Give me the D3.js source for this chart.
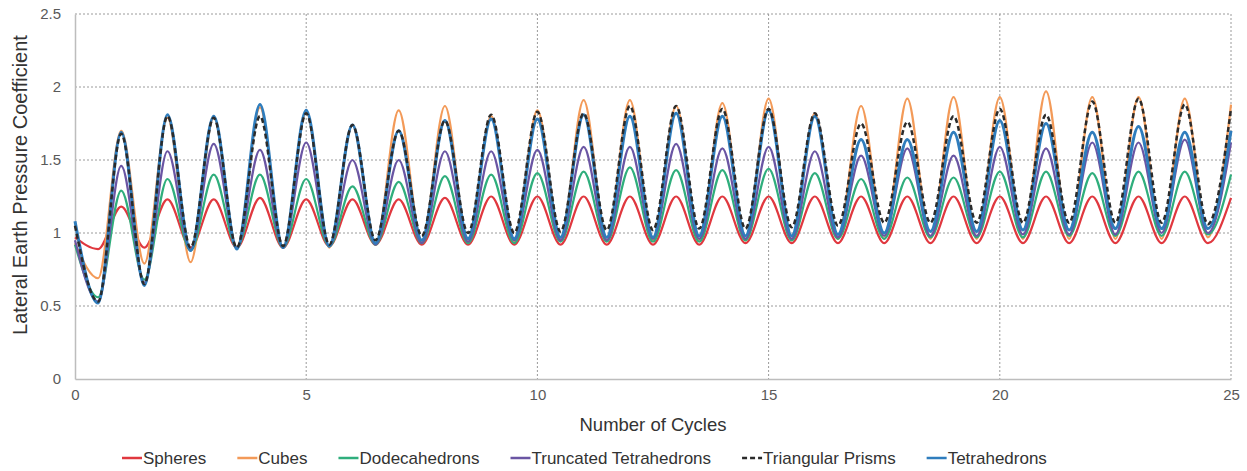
<!DOCTYPE html>
<html>
<head>
<meta charset="utf-8">
<script src="https://cdnjs.cloudflare.com/ajax/libs/d3/7.8.5/d3.min.js"></script>
<style>
    body { margin: 0; background: #fff; }
    svg { font-family: "Liberation Sans", Arial, sans-serif; }
    .tick text { fill: #595959; font-size: 15px; }
    .grid line { stroke: #9a9a9a; stroke-dasharray: 2,2; }
</style>
</head>
<body>
<svg id="chart" width="1247" height="471"></svg>
<script>
// cycle positions: peaks at whole cycles, troughs at half cycles
const cycles = d3.range(0, 25.5, 0.5);

const spheres = [
    0.97, 0.89, 1.18, 0.90, 1.23, 0.90, 1.23, 0.90, 1.24, 0.90,
    1.23, 0.91, 1.23, 0.92, 1.23, 0.92, 1.24, 0.92, 1.25, 0.92,
    1.25, 0.92, 1.25, 0.92, 1.25, 0.92, 1.25, 0.92, 1.25, 0.93,
    1.25, 0.93, 1.25, 0.93, 1.25, 0.93, 1.25, 0.93, 1.25, 0.93,
    1.25, 0.93, 1.25, 0.93, 1.25, 0.93, 1.25, 0.93, 1.25, 0.93,
    1.24
];
const cubes = [
    0.93, 0.69, 1.70, 0.79, 1.79, 0.80, 1.79, 0.90, 1.86, 0.90,
    1.83, 0.90, 1.74, 0.92, 1.84, 0.94, 1.87, 0.94, 1.80, 0.94,
    1.84, 0.95, 1.91, 0.95, 1.91, 0.95, 1.87, 0.95, 1.89, 0.95,
    1.92, 0.95, 1.82, 0.96, 1.87, 0.96, 1.92, 0.96, 1.93, 0.96,
    1.93, 0.96, 1.97, 0.96, 1.93, 0.96, 1.93, 0.96, 1.92, 0.97,
    1.88
];
const dodecahedrons = [
    0.92, 0.56, 1.29, 0.68, 1.37, 0.88, 1.40, 0.90, 1.40, 0.90,
    1.37, 0.91, 1.32, 0.92, 1.35, 0.93, 1.39, 0.93, 1.40, 0.93,
    1.41, 0.94, 1.42, 0.94, 1.45, 0.94, 1.43, 0.94, 1.43, 0.95,
    1.44, 0.95, 1.41, 0.96, 1.37, 0.96, 1.38, 0.97, 1.38, 0.97,
    1.42, 0.97, 1.42, 0.98, 1.41, 0.98, 1.42, 0.98, 1.42, 0.99,
    1.40
];
const truncTetrahedrons = [
    0.95, 0.53, 1.46, 0.66, 1.56, 0.88, 1.61, 0.90, 1.57, 0.90,
    1.62, 0.91, 1.50, 0.92, 1.50, 0.93, 1.56, 0.94, 1.56, 0.95,
    1.57, 0.95, 1.59, 0.95, 1.59, 0.96, 1.61, 0.96, 1.58, 0.96,
    1.59, 0.96, 1.56, 0.97, 1.53, 0.98, 1.58, 0.98, 1.53, 0.98,
    1.59, 0.99, 1.58, 0.99, 1.62, 0.99, 1.62, 1.00, 1.64, 1.00,
    1.62
];
const triPrisms = [
    1.05, 0.53, 1.68, 0.65, 1.80, 0.90, 1.79, 0.90, 1.80, 0.91,
    1.82, 0.92, 1.74, 0.95, 1.70, 0.98, 1.77, 1.00, 1.81, 1.00,
    1.83, 1.01, 1.82, 1.02, 1.87, 1.02, 1.87, 1.03, 1.85, 1.03,
    1.85, 1.04, 1.82, 1.05, 1.75, 1.07, 1.76, 1.07, 1.80, 1.07,
    1.85, 1.07, 1.81, 1.07, 1.90, 1.07, 1.92, 1.07, 1.88, 1.06,
    1.85
];
const tetrahedrons = [
    1.08, 0.52, 1.69, 0.64, 1.81, 0.88, 1.80, 0.89, 1.88, 0.90,
    1.84, 0.91, 1.74, 0.93, 1.70, 0.95, 1.77, 0.96, 1.78, 0.96,
    1.78, 0.97, 1.81, 0.97, 1.80, 0.97, 1.82, 0.98, 1.80, 0.98,
    1.84, 0.98, 1.80, 0.99, 1.64, 1.00, 1.64, 1.01, 1.69, 1.01,
    1.77, 1.02, 1.75, 1.02, 1.69, 1.03, 1.73, 1.03, 1.69, 1.03,
    1.70
];

const seriesNames = ['Spheres', 'Cubes', 'Dodecahedrons', 'Truncated Tetrahedrons', 'Triangular Prisms', 'Tetrahedrons'];
const seriesValues = [spheres, cubes, dodecahedrons, truncTetrahedrons, triPrisms, tetrahedrons];
const seriesColors = ['#e0383f', '#f39a58', '#2fae7c', '#6a55a3', '#2b2b2b', '#2f7dbd'];
const seriesWidths = [2.2, 2.2, 2.2, 2.2, 2.5, 3];
const seriesDash = [null, null, null, null, '5,3', null];
// drawing order: tetrahedrons before prisms so the dashes show on top
const drawOrder = [0, 1, 2, 3, 5, 4];

const xTicks = [0, 5, 10, 15, 20, 25];
const yTicks = [0, 0.5, 1, 1.5, 2, 2.5];

const margin = { top: 14, right: 16, left: 75, bottom: 92 };
const width = 1247 - margin.left - margin.right;
const height = 471 - margin.top - margin.bottom;

const svg = d3.select('#chart');
const g = svg.append('g')
    .attr('transform', `translate(${margin.left}, ${margin.top})`);

const xScale = d3.scaleLinear().domain([0, 25]).range([0, width]);
const yScale = d3.scaleLinear().domain([0, 2.5]).range([height, 0]);

// grid
g.append('g')
    .attr('class', 'grid')
    .selectAll('line')
    .data(yTicks.filter(d => d > 0))
    .join('line')
    .attr('x1', 0)
    .attr('x2', width)
    .attr('y1', d => yScale(d))
    .attr('y2', d => yScale(d));

g.append('g')
    .attr('class', 'grid')
    .selectAll('line')
    .data(xTicks.filter(d => d > 0))
    .join('line')
    .attr('x1', d => xScale(d))
    .attr('x2', d => xScale(d))
    .attr('y1', 0)
    .attr('y2', height);

// axes
const xAxis = d3.axisBottom(xScale).tickValues(xTicks).tickSize(0).tickPadding(10);
const yAxis = d3.axisLeft(yScale).tickValues(yTicks).tickSize(0).tickPadding(14)
    .tickFormat(d3.format('~g'));

g.append('g')
    .attr('transform', `translate(0,${height})`)
    .call(xAxis)
    .call(a => a.select('.domain').attr('stroke', '#bdbdbd').attr('stroke-width', 1.5));

g.append('g')
    .call(yAxis)
    .call(a => a.select('.domain').attr('stroke', '#bdbdbd').attr('stroke-width', 1.5));

// series lines
const line = d3.line()
    .x((d, i) => xScale(cycles[i]))
    .y(d => yScale(d))
    .curve(d3.curveMonotoneX);

g.append('g')
    .selectAll('path')
    .data(drawOrder)
    .join('path')
    .attr('d', i => line(seriesValues[i]))
    .attr('fill', 'none')
    .attr('stroke', i => seriesColors[i])
    .attr('stroke-width', i => seriesWidths[i])
    .attr('stroke-dasharray', i => seriesDash[i])
    .attr('stroke-linejoin', 'round');

// axis titles
svg.append('text')
    .attr('text-anchor', 'middle')
    .attr('x', margin.left + width / 2)
    .attr('y', 431)
    .attr('font-size', 18.5)
    .attr('fill', '#333')
    .text('Number of Cycles');

svg.append('text')
    .attr('text-anchor', 'middle')
    .attr('transform', 'rotate(-90)')
    .attr('x', -185)
    .attr('y', 27)
    .attr('font-size', 20)
    .attr('fill', '#333')
    .text('Lateral Earth Pressure Coefficient');

// legend
const legend = svg.append('g').attr('transform', 'translate(122, 458)');
let lx = 0;
seriesNames.forEach((name, i) => {
    const item = legend.append('g').attr('transform', `translate(${lx},0)`);
    item.append('line')
        .attr('x1', 0).attr('x2', 20)
        .attr('y1', 0).attr('y2', 0)
        .attr('stroke', seriesColors[i])
        .attr('stroke-width', 2.5)
        .attr('stroke-dasharray', seriesDash[i]);
    const t = item.append('text')
        .attr('x', 21)
        .attr('y', 6)
        .attr('font-size', 17)
        .attr('fill', '#333')
        .text(name);
    lx += 21 + t.node().getComputedTextLength() + 31;
});
</script>
</body>
</html>
